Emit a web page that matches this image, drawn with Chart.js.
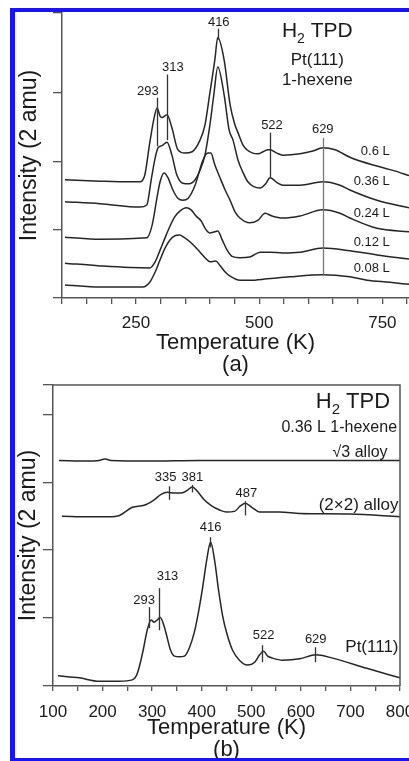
<!DOCTYPE html>
<html>
<head>
<meta charset="utf-8">
<script src="https://cdn.jsdelivr.net/npm/chart.js@4.4.1/dist/chart.umd.min.js"></script>
<style>
  html, body { margin: 0; padding: 0; background: #fff; overflow: hidden; }
  #wrap { position: relative; width: 409px; height: 761px; }
  canvas { position: absolute; left: 0; }
  #chartA { top: 0; }
  #chartB { top: 377px; }
  #frame {
    position: absolute; left: 10px; top: 8px; width: 440px; height: 754px;
    box-sizing: border-box; border: 4px solid #1a14f0; border-left-width: 5px;
    border-right: none; pointer-events: none;
  }
</style>
</head>
<body>
<div id="wrap">
  <canvas id="chartA" width="409" height="377"></canvas>
  <canvas id="chartB" width="409" height="384"></canvas>
  <div id="frame"></div>
</div>
<script>
// ---- panel (a): H2 TPD from Pt(111), 1-hexene exposures ----
const exposuresA = ['0.6 L', '0.36 L', '0.24 L', '0.12 L', '0.08 L'];

const tempA06 = [106,177,238,258,268,278,287,293,299,303,313,323,335,349,364,380,390,400,410,416,429,441,451,457,467,475,487,498,508,518,522,536,548,583,609,629,654,684,739,775,804];
const intA06  = [1.73,1.71,1.70,1.70,1.80,2.27,2.64,2.78,2.66,2.64,2.68,2.49,2.17,2.12,2.14,2.31,2.53,3.00,3.48,3.81,3.48,2.83,2.53,2.42,2.24,2.17,2.12,2.11,2.14,2.17,2.17,2.12,2.09,2.11,2.15,2.20,2.17,2.06,1.93,1.86,1.79];

const tempA036 = [106,177,258,272,281,289,295,303,313,323,333,345,358,370,380,390,400,408,416,429,439,447,457,467,477,489,502,514,522,538,548,583,629,664,684,739,804];
const intA036  = [1.41,1.38,1.33,1.36,1.73,2.05,2.20,2.23,2.28,2.09,1.80,1.68,1.67,1.73,1.87,2.09,2.53,2.97,3.38,2.97,2.46,2.31,2.02,1.84,1.70,1.63,1.61,1.68,1.76,1.68,1.65,1.65,1.70,1.65,1.58,1.43,1.32];

const tempA024 = [106,177,272,283,293,299,307,315,325,335,345,356,370,386,396,402,410,420,431,441,451,461,481,498,512,526,548,583,629,664,684,739,804];
const intA024  = [0.89,0.86,0.88,1.07,1.48,1.70,1.83,1.76,1.58,1.46,1.43,1.46,1.65,2.02,2.12,2.12,1.95,1.77,1.58,1.43,1.26,1.17,1.10,1.14,1.24,1.20,1.17,1.20,1.29,1.24,1.17,1.02,0.97];

const tempA012 = [106,177,278,289,299,309,319,329,339,352,362,372,382,392,400,410,416,425,435,445,461,481,502,522,548,583,629,684,739,804];
const intA012  = [0.51,0.47,0.44,0.53,0.70,0.88,1.05,1.19,1.27,1.32,1.29,1.20,1.13,1.00,0.95,0.97,0.98,0.85,0.70,0.61,0.59,0.60,0.67,0.67,0.66,0.67,0.73,0.69,0.63,0.57];

const tempA008 = [106,177,264,278,289,299,309,319,329,339,347,360,370,380,390,400,412,420,431,441,461,481,516,562,629,684,719,765,804];
const intA008  = [0.19,0.16,0.16,0.23,0.38,0.56,0.73,0.85,0.91,0.92,0.89,0.82,0.75,0.67,0.59,0.53,0.54,0.48,0.38,0.32,0.26,0.26,0.28,0.31,0.34,0.31,0.26,0.23,0.20];

const peaksA = [293, 313, 416, 522, 629];
const xLabelsA = [250, 500, 750];

// ---- panel (b): 0.36 L 1-hexene on the alloys and Pt(111) ----
const seriesB = ['\u221A3 alloy', '(2\u00D72) alloy', 'Pt(111)'];

const tempBSqrt3 = [112,173,193,205,217,294,395,497,598,699,800];
const intBSqrt3  = [3.32,3.31,3.32,3.34,3.32,3.31,3.32,3.32,3.32,3.32,3.32];

const tempB2x2 = [118,173,213,234,260,284,304,318,331,345,359,371,381,393,405,420,436,450,466,478,488,501,517,557,598,699,800];
const intB2x2  = [2.50,2.49,2.49,2.51,2.63,2.66,2.74,2.82,2.85,2.84,2.84,2.88,2.93,2.85,2.74,2.65,2.59,2.56,2.57,2.65,2.69,2.63,2.56,2.56,2.54,2.53,2.49];

const tempBPt = [110,153,193,234,260,268,274,282,290,298,304,310,316,323,329,337,345,355,365,375,385,393,401,410,418,426,434,442,450,462,476,492,507,517,525,533,543,563,598,630,664,733,800];
const intBPt  = [0.15,0.12,0.07,0.07,0.09,0.15,0.28,0.53,0.82,0.97,0.94,0.97,1.01,0.91,0.75,0.53,0.44,0.43,0.44,0.56,0.79,1.07,1.41,1.85,2.12,1.85,1.41,1.04,0.79,0.53,0.38,0.31,0.35,0.46,0.51,0.44,0.41,0.38,0.40,0.46,0.41,0.26,0.12];

const peaksB2x2 = [335, 381, 487];
const peaksBPt = [293, 313, 416, 522, 629];
const xLabelsB = [100, 200, 300, 400, 500, 600, 700, 800];

// ---- common look ----
const ink = '#1a1a1a';
const axisColor = '#555';
const curveColor = '#262626';
Chart.defaults.font.family = '"Liberation Sans", Arial, Helvetica, sans-serif';
Chart.defaults.color = ink;

function pts(T, I) {
  return T.map((t, k) => ({ x: t, y: I[k] }));
}

function curve(label, T, I) {
  return {
    label: label,
    data: pts(T, I),
    borderColor: curveColor,
    borderWidth: 1.5,
    pointRadius: 0,
    fill: false,
    cubicInterpolationMode: 'monotone'
  };
}

// text + marker lines placed in data units through the chart scales
function notesPlugin(notes) {
  return {
    id: 'notes',
    afterDatasetsDraw(chart) {
      const ctx = chart.ctx;
      const x = chart.scales.x, y = chart.scales.y;
      ctx.save();
      notes.lines.forEach(l => {
        const px = Math.round(x.getPixelForValue(l.t)) + 0.5;
        ctx.strokeStyle = l.color || '#333';
        ctx.lineWidth = 1.3;
        ctx.beginPath();
        ctx.moveTo(px, y.getPixelForValue(l.from));
        ctx.lineTo(px, y.getPixelForValue(l.to));
        ctx.stroke();
      });
      ctx.fillStyle = ink;
      ctx.textBaseline = 'middle';
      notes.texts.forEach(n => {
        const fam = Chart.defaults.font.family;
        const px = x.getPixelForValue(n.t), py = y.getPixelForValue(n.i);
        if (n.sub) {
          // "H" + subscript "2" + rest
          const big = n.size + 'px ' + fam, small = Math.round(n.size * 0.68) + 'px ' + fam;
          ctx.font = big; const w1 = ctx.measureText(n.sub[0]).width;
          ctx.font = small; const w2 = ctx.measureText(n.sub[1]).width;
          ctx.font = big; const w3 = ctx.measureText(n.sub[2]).width;
          const total = w1 + w2 + w3;
          let sx = n.align === 'right' ? px - total : n.align === 'left' ? px : px - total / 2;
          ctx.textAlign = 'left';
          ctx.font = big; ctx.fillText(n.sub[0], sx, py);
          ctx.font = small; ctx.fillText(n.sub[1], sx + w1, py + n.size * 0.38);
          ctx.font = big; ctx.fillText(n.sub[2], sx + w1 + w2, py);
        } else {
          ctx.font = n.size + 'px ' + fam;
          ctx.textAlign = n.align || 'center';
          ctx.fillText(n.text, px, py);
        }
      });
      ctx.restore();
    }
  };
}

// closed box for panel (b)
const boxPlugin = {
  id: 'box',
  afterDraw(chart) {
    const { ctx, chartArea: a } = chart;
    ctx.save();
    ctx.strokeStyle = axisColor;
    ctx.lineWidth = 1.5;
    ctx.beginPath();
    ctx.moveTo(a.left, a.top);
    ctx.lineTo(a.right, a.top);
    ctx.lineTo(a.right, a.bottom);
    ctx.stroke();
    ctx.restore();
  }
};

// ---- panel (a) ----
const peakLabelPosA = [{ t: 274, i: 3.02 }, { t: 325, i: 3.37 }, { t: 418, i: 4.03 }, { t: 526, i: 2.53 }, { t: 629, i: 2.46 }];
const peakLineA = [[2.93, 2.22], [3.27, 2.31], [3.94, 3.78], [2.42, 1.77], [2.34, 0.34]];
const seriesLabelLevelA = [2.15, 1.70, 1.24, 0.82, 0.44];

const notesA = {
  lines: peaksA.map((p, k) => ({ t: p, from: peakLineA[k][0], to: peakLineA[k][1], color: p === 629 ? '#777' : '#333' })),
  texts: [
    { sub: ['H', '2', ' TPD'], t: 618, i: 3.9, size: 21 },
    { text: 'Pt(111)', t: 618, i: 3.48, size: 17 },
    { text: '1-hexene', t: 618, i: 3.18, size: 17 }
  ].concat(
    peaksA.map((p, k) => ({ text: String(p), t: peakLabelPosA[k].t, i: peakLabelPosA[k].i, size: 13 })),
    exposuresA.map((e, k) => ({ text: e, t: 765, i: seriesLabelLevelA[k], size: 13, align: 'right' }))
  )
};

new Chart(document.getElementById('chartA'), {
  type: 'line',
  data: {
    datasets: [
      curve(exposuresA[0], tempA06, intA06),
      curve(exposuresA[1], tempA036, intA036),
      curve(exposuresA[2], tempA024, intA024),
      curve(exposuresA[3], tempA012, intA012),
      curve(exposuresA[4], tempA008, intA008)
    ]
  },
  options: {
    responsive: false,
    animation: false,
    layout: { padding: { left: 14, right: 0, top: 13, bottom: 0 } },
    plugins: { legend: { display: false }, tooltip: { enabled: false } },
    scales: {
      x: {
        type: 'linear', min: 100, max: 804,
        border: { color: axisColor, width: 1.5 },
        grid: { drawOnChartArea: false, tickLength: 6, color: axisColor, lineWidth: 1.3 },
        ticks: {
          stepSize: 50, includeBounds: false, autoSkip: false, maxRotation: 0, padding: 9,
          font: { size: 17, lineHeight: 1.2 }, color: ink,
          callback: v => xLabelsA.includes(v) ? String(v) : ''
        },
        title: { display: true, text: ['Temperature (K)', '(a)'], color: ink, font: { size: 22, lineHeight: 1 }, padding: { top: 0, bottom: 1 } },
        afterFit: s => { s.height = 79; s.paddingLeft = 0; s.paddingRight = 0; }
      },
      y: {
        min: 0, max: 4.17,
        border: { color: axisColor, width: 1.5 },
        grid: { drawOnChartArea: false, tickLength: 9, color: axisColor, lineWidth: 1.3 },
        ticks: { stepSize: 1, padding: 0, callback: () => '' },
        title: { display: true, text: 'Intensity (2 amu)', color: ink, font: { size: 23, lineHeight: 1 }, padding: { top: 4.5, bottom: 0 } },
        afterFit: s => { s.width = 48; s.paddingTop = 0; s.paddingBottom = 0; }
      }
    }
  },
  plugins: [notesPlugin(notesA)]
});

// ---- panel (b) ----
const peaksB = peaksB2x2.concat(peaksBPt);
const peakLabelPosB = [
  { t: 327, i: 3.07 }, { t: 381, i: 3.07 }, { t: 490, i: 2.84 },
  { t: 284, i: 1.26 }, { t: 331, i: 1.62 }, { t: 418, i: 2.34 }, { t: 525, i: 0.75 }, { t: 630, i: 0.69 }
];
const peakLineB = [[2.94, 2.74], [2.96, 2.85], [2.72, 2.51], [1.16, 0.85], [1.44, 0.82], [2.19, 2.04], [0.60, 0.35], [0.57, 0.35]];
const seriesLabelPosB = [{ t: 775, i: 3.44, size: 16 }, { t: 797, i: 2.66, size: 17 }, { t: 797, i: 0.57, size: 17 }];

const notesB = {
  lines: peaksB.map((p, k) => ({ t: p, from: peakLineB[k][0], to: peakLineB[k][1] })),
  texts: [
    { sub: ['H', '2', ' TPD'], t: 780, i: 4.18, size: 22, align: 'right' },
    { text: '0.36 L 1-hexene', t: 794, i: 3.81, size: 16, align: 'right' }
  ].concat(
    peaksB.map((p, k) => ({ text: String(p), t: peakLabelPosB[k].t, i: peakLabelPosB[k].i, size: 13 })),
    seriesB.map((s, k) => ({ text: s, t: seriesLabelPosB[k].t, i: seriesLabelPosB[k].i, size: seriesLabelPosB[k].size, align: 'right' }))
  )
};

new Chart(document.getElementById('chartB'), {
  type: 'line',
  data: {
    datasets: [
      curve(seriesB[0], tempBSqrt3, intBSqrt3),
      curve(seriesB[1], tempB2x2, intB2x2),
      curve(seriesB[2], tempBPt, intBPt)
    ]
  },
  options: {
    responsive: false,
    animation: false,
    layout: { padding: { left: 14, right: 9, top: 8, bottom: 0 } },
    plugins: { legend: { display: false }, tooltip: { enabled: false } },
    scales: {
      x: {
        type: 'linear', min: 100, max: 800,
        border: { color: axisColor, width: 1.5 },
        grid: { drawOnChartArea: false, tickLength: 5, color: axisColor, lineWidth: 1.3 },
        ticks: {
          stepSize: 50, autoSkip: false, maxRotation: 0, padding: 11,
          font: { size: 17, lineHeight: 1.2 }, color: ink,
          callback: v => xLabelsB.includes(v) ? String(v) : ''
        },
        title: { display: true, text: ['Temperature (K)', '(b)'], color: ink, font: { size: 22, lineHeight: 1 }, padding: { top: 0, bottom: 0 } },
        afterFit: s => { s.height = 75; s.paddingLeft = 0; s.paddingRight = 0; }
      },
      y: {
        min: 0, max: 4.43,
        border: { color: axisColor, width: 1.5 },
        grid: { drawOnChartArea: false, tickLength: 10, color: axisColor, lineWidth: 1.3 },
        ticks: { stepSize: 1, padding: 0, callback: () => '' },
        title: { display: true, text: 'Intensity (2 amu)', color: ink, font: { size: 23, lineHeight: 1 }, padding: { top: 3, bottom: 0 } },
        afterFit: s => { s.width = 39; s.paddingTop = 0; s.paddingBottom = 0; }
      }
    }
  },
  plugins: [notesPlugin(notesB), boxPlugin]
});
</script>
</body>
</html>
